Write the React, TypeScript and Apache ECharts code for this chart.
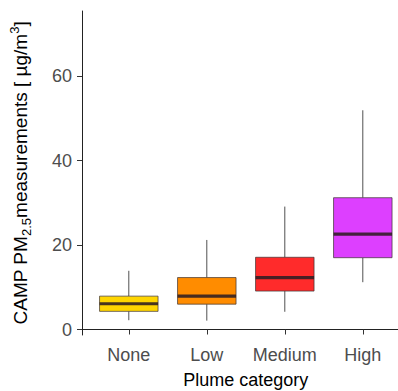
import React, { useEffect, useRef } from "react";
import * as echarts from "echarts";

// Plume categories on the x axis
const categories = ["None", "Low", "Medium", "High"];
// Box statistics per category (µg/m³)
const whiskerLow = [2.2, 2.1, 4.2, 11.2];
const q1 = [4.3, 6.0, 9.1, 17.0];
const median = [6.1, 7.9, 12.3, 22.6];
const q3 = [7.9, 12.3, 17.1, 31.2];
const whiskerHigh = [13.9, 21.2, 29.1, 51.9];
const fills = ["#FFD500", "#FF8C00", "#FF2B2B", "#DD3FFF"];
const yTicks = [0, 20, 40, 60];

const FONT = "'Liberation Sans', Arial, sans-serif";
const HALF_BOX = 0.375;

export default function App() {
  const ref = useRef<HTMLDivElement>(null);

  useEffect(() => {
    if (!ref.current) return;
    const chart = echarts.init(ref.current, undefined, { renderer: "svg" });

    const boxData = categories.map((_, i) => [
      i + 1,
      whiskerLow[i],
      q1[i],
      median[i],
      q3[i],
      whiskerHigh[i],
    ]);

    const xPositions = categories.map((_, i) => i + 1);

    chart.setOption({
      animation: false,
      backgroundColor: "#ffffff",
      grid: {
        left: 82,
        top: 11,
        width: 327.6,
        height: 324,
        outerBoundsMode: "none",
      },
      xAxis: {
        type: "value",
        min: 0.4,
        max: 4.6,
        name: "Plume category",
        nameLocation: "middle",
        nameGap: 35,
        nameTextStyle: {
          fontSize: 18,
          color: "#000",
          fontFamily: FONT,
          lineHeight: 20,
        },
        axisLine: { show: true, lineStyle: { color: "#222", width: 1 } },
        axisTick: {
          show: true,
          customValues: xPositions,
          length: 5,
          lineStyle: { color: "#333" },
        },
        axisLabel: {
          customValues: xPositions,
          formatter: (v: number) => categories[Math.round(v) - 1] ?? "",
          fontSize: 18,
          color: "#4D4D4D",
          fontFamily: FONT,
          margin: 11,
        },
        splitLine: { show: false },
      },
      yAxis: {
        type: "value",
        min: -1.3,
        max: 75.4,
        name: "{a|CAMP PM}{s|2.5}{a|measurements [ µg/m}{p|3}{a|]}",
        nameLocation: "middle",
        nameGap: 49,
        nameRotate: 90,
        nameTextStyle: {
          fontSize: 19,
          color: "#000",
          fontFamily: FONT,
          rich: {
            a: { fontSize: 19, color: "#000", fontFamily: FONT, lineHeight: 25 },
            s: {
              fontSize: 13,
              color: "#000",
              fontFamily: FONT,
              verticalAlign: "bottom",
              lineHeight: 25,
            },
            p: {
              fontSize: 13,
              color: "#000",
              fontFamily: FONT,
              verticalAlign: "top",
              lineHeight: 25,
            },
          },
        },
        axisLine: { show: true, lineStyle: { color: "#222", width: 1 } },
        axisTick: {
          show: true,
          customValues: yTicks,
          length: 5,
          lineStyle: { color: "#333" },
        },
        axisLabel: {
          customValues: yTicks,
          fontSize: 18,
          color: "#4D4D4D",
          fontFamily: FONT,
          margin: 10,
        },
        splitLine: { show: false },
      },
      series: [
        {
          type: "custom",
          data: boxData,
          encode: { x: 0, y: [1, 2, 3, 4, 5] },
          clip: false,
          renderItem: (params: any, api: any) => {
            const x = api.value(0);
            const idx = params.dataIndex;
            const lo = api.coord([x, api.value(1)]);
            const b1 = api.coord([x - HALF_BOX, api.value(2)]);
            const md1 = api.coord([x - HALF_BOX, api.value(3)]);
            const md2 = api.coord([x + HALF_BOX, api.value(3)]);
            const b3 = api.coord([x + HALF_BOX, api.value(4)]);
            const hi = api.coord([x, api.value(5)]);
            const q1p = api.coord([x, api.value(2)]);
            const q3p = api.coord([x, api.value(4)]);
            const whiskerStyle = { stroke: "#505050", lineWidth: 1 };
            return {
              type: "group",
              children: [
                {
                  type: "line",
                  shape: { x1: hi[0], y1: hi[1], x2: q3p[0], y2: q3p[1] },
                  style: whiskerStyle,
                },
                {
                  type: "line",
                  shape: { x1: q1p[0], y1: q1p[1], x2: lo[0], y2: lo[1] },
                  style: whiskerStyle,
                },
                {
                  type: "rect",
                  shape: {
                    x: b1[0],
                    y: b3[1],
                    width: b3[0] - b1[0],
                    height: b1[1] - b3[1],
                  },
                  style: {
                    fill: fills[idx],
                    stroke: "rgba(60,50,50,0.7)",
                    lineWidth: 1,
                  },
                },
                {
                  type: "line",
                  shape: { x1: md1[0], y1: md1[1], x2: md2[0], y2: md2[1] },
                  style: { stroke: "rgba(45,30,35,0.88)", lineWidth: 3.2 },
                },
              ],
            };
          },
        },
      ],
    });

    return () => chart.dispose();
  }, []);

  return (
    <div
      ref={ref}
      style={{ position: "fixed", left: 0, top: 0, width: 398, height: 391 }}
    />
  );
}
